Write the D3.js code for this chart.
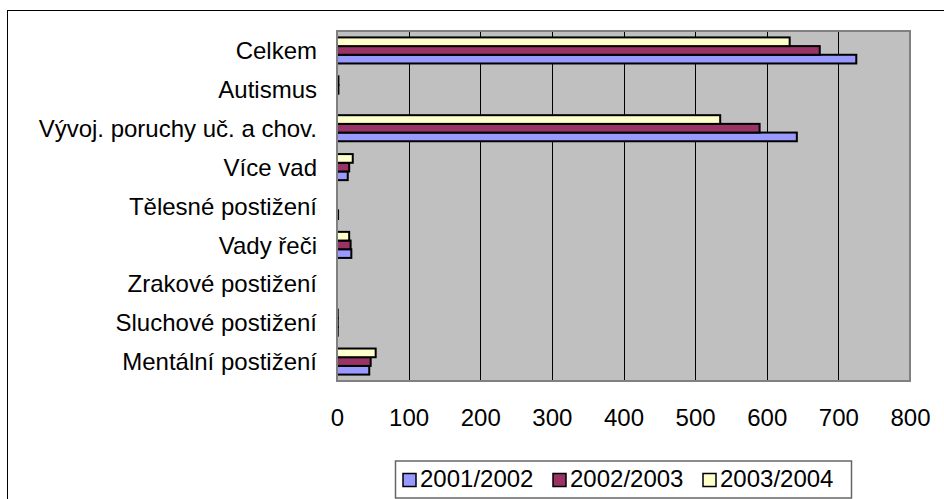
<!DOCTYPE html>
<html><head><meta charset="utf-8">
<script src="https://cdn.jsdelivr.net/npm/d3@7"></script>
<style>body{margin:0;background:#fff}svg{display:block}text{font-family:"Liberation Sans",Arial,sans-serif;fill:#000}</style>
</head><body>
<script>
const categories = ["Celkem","Autismus","Vývoj. poruchy uč. a chov.","Více vad","Tělesné postižení","Vady řeči","Zrakové postižení","Sluchové postižení","Mentální postižení"];
const seriesNames = ["2001/2002","2002/2003","2003/2004"];
const s2001 = [725, 0, 642, 15, 1.5, 20, 0, 1, 45];
const s2002 = [674, 2, 590, 17, 0, 19, 0, 1, 47];
const s2003 = [632, 2, 535, 22, 0, 17, 0, 1, 54];
const xTicks = [0,100,200,300,400,500,600,700,800];
const colors = ["#9999FF","#993366","#FFFFCC"];

const W=944,H=499;
const svg=d3.select("body").append("svg").attr("width",W).attr("height",H);
const L=337,R=910,T=31,B=381;
const x=d3.scaleLinear().domain([0,800]).range([L,R]);
const y=d3.scaleBand().domain(categories).range([T,B]).paddingInner(0.33).paddingOuter(0.165);
// order within group: top = 2003/2004, then 2002/2003, bottom = 2001/2002
const yi=d3.scaleBand().domain([2,1,0]).range([0,y.bandwidth()]);
const series=[s2001,s2002,s2003];

// outer frame
svg.append("rect").attr("x",7.5).attr("y",10.5).attr("width",W).attr("height",H).attr("fill","none").attr("stroke","#000").attr("stroke-width",1);

svg.append("rect").attr("x",L).attr("y",T).attr("width",R-L).attr("height",B-T).attr("fill","#C0C0C0");
svg.append("g").selectAll("line").data(xTicks.filter(d=>d>0&&d<800)).join("line")
 .attr("x1",d=>Math.round(x(d))+0.5).attr("x2",d=>Math.round(x(d))+0.5).attr("y1",T).attr("y2",B)
 .attr("stroke","#000").attr("stroke-width",1);

const g=svg.append("g");
series.forEach((s,si)=>{
  g.append("g").selectAll("rect").data(categories.map((c,i)=>({c,v:s[i]})).filter(d=>d.v>0)).join("rect")
   .attr("x",x(0)).attr("y",d=>y(d.c)+yi(si)).attr("width",d=>x(d.v)-x(0)).attr("height",yi.bandwidth())
   .attr("fill",colors[si]).attr("stroke","#000").attr("stroke-width",2);
});
svg.append("rect").attr("x",L).attr("y",T).attr("width",R-L).attr("height",B-T).attr("fill","none").attr("stroke","#808080").attr("stroke-width",2);

// category labels
svg.append("g").selectAll("text").data(categories).join("text")
 .attr("x",317).attr("y",d=>y(d)+y.bandwidth()/2).attr("dy","0.36em").attr("text-anchor","end")
 .style("font-size","24px").text(d=>d);
// x tick labels
const xa=d3.axisBottom(x).tickValues(xTicks).tickSize(0).tickPadding(0).tickFormat(d3.format("d"));
const ag=svg.append("g").attr("transform",`translate(0,${B})`).call(xa);
ag.select(".domain").remove();
ag.selectAll("text").attr("y",45).attr("dy",0).style("font-size","24px").style("font-family","'Liberation Sans',Arial,sans-serif").attr("fill","#000");

// legend
svg.append("rect").attr("x",395.5).attr("y",461).attr("width",456).attr("height",37).attr("fill","#fff").attr("stroke","#666").attr("stroke-width",1.5);
const lx=[403,553,703];
seriesNames.forEach((n,i)=>{
  svg.append("rect").attr("x",lx[i]).attr("y",473.5).attr("width",13).attr("height",13).attr("fill",colors[i]).attr("stroke","#000").attr("stroke-width",1.5);
  svg.append("text").attr("x",lx[i]+17).attr("y",487).style("font-size","24px").text(n);
});
</script>
</body></html>
